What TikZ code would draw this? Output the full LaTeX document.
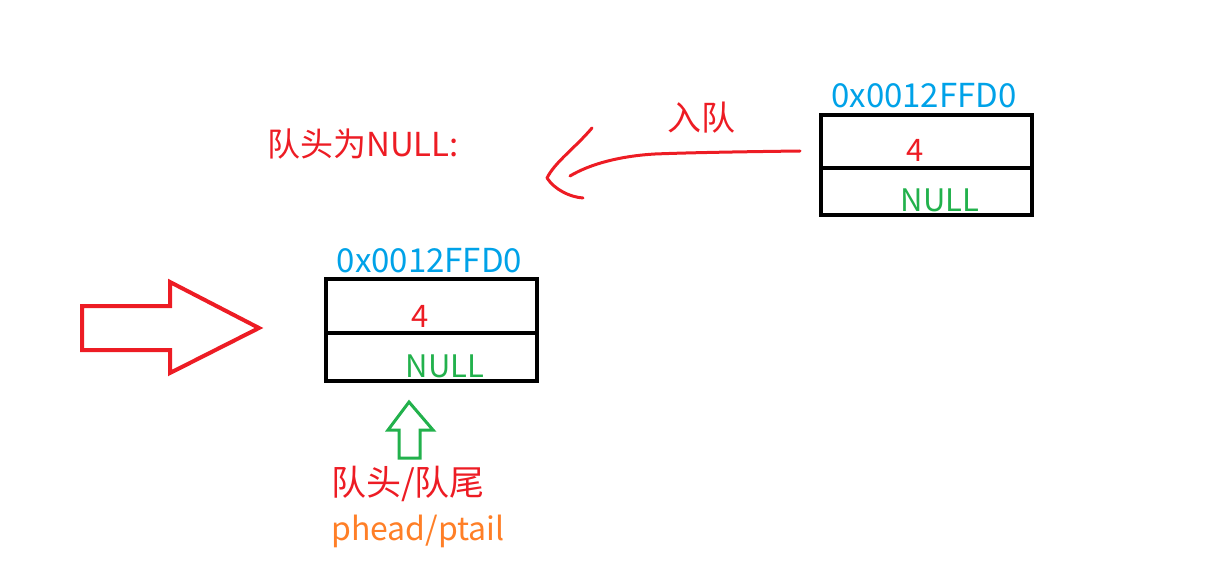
\documentclass[tikz,border=0pt]{standalone}
\usepackage{fontspec}
\setmainfont{Noto Sans CJK SC}
\usetikzlibrary{positioning,calc}
\definecolor{inkred}{HTML}{ED1C24}
\definecolor{inkblue}{HTML}{00A2E8}
\definecolor{inkgreen}{HTML}{22B14C}
\definecolor{inkorange}{HTML}{FF7F27}
\tikzset{
  cell/.style={draw, line width=4pt, minimum width=211pt, inner sep=0pt, outer sep=0pt},
  addr/.style={text=inkblue, font=\fontsize{33}{33}\selectfont, inner sep=0pt},
  val/.style={text=inkred, font=\fontsize{31}{31}\selectfont, inner sep=0pt},
  nul/.style={text=inkgreen, font=\fontsize{31}{31}\selectfont, inner sep=0pt},
  note/.style={text=inkred, font=\fontsize{34}{34}\selectfont, inner sep=0pt},
  ptr/.style={text=inkorange, font=\fontsize{32}{32}\selectfont, inner sep=0pt},
  hand/.style={draw=inkred, line width=3pt, line cap=round, line join=round},
  fat/.style={line width=4pt, line join=miter},
}
\begin{document}
\begin{tikzpicture}[x=1pt, y=-1pt]
  \useasboundingbox (0,0) rectangle (1208,567);

  % new node, right
  \node[cell, minimum height=53pt] (rtop) at (926.5,141.5) {};
  \node[cell, minimum height=47pt, below=0pt of rtop] (rbot) {};
  \node[addr] (raddr) at (924,95.5) {0x0012FFD0};
  \node[val] (rval) at (915,150) {4};
  \node[nul] (rnext) at (940,200) {NULL};

  % queue after insert, left
  \node[cell, minimum height=54pt] (ltop) at (431.5,306) {};
  \node[cell, minimum height=48pt, below=0pt of ltop] (lbot) {};
  \node[addr] (laddr) at (429.5,261) {0x0012FFD0};
  \node[val] (lval) at (420,316) {4};
  \node[nul] (lnext) at (445,366.5) {NULL};

  % notes
  \node[note, font=\fontsize{33}{33}\selectfont] (empty) at (363,144) {队头为NULL:};
  \node[note] (enq) at (701,118) {入队};
  \node[note, font=\fontsize{35}{35}\selectfont] (ends) at (408,484) {队头/队尾};
  \node[ptr] (ptrs) at (418,531) {phead/ptail};

  % hand drawn enqueue arrow
  \coordinate (from) at ($(rtop.south west)+(-21,-17)$);
  \coordinate (tip) at (547,178);
  \draw[hand] (from) .. controls (720,152) and (680,153) .. (655,154)
    .. controls (620,156) and (590,164) .. (570,176);
  \draw[hand] (592,128) .. controls (575,148) and (555,162) .. (tip)
    .. controls (555,190) and (570,197) .. (583,198);

  % big hollow arrow
  \draw[inkred, fat] (82,306) -- (170,306) -- (170,282) -- (259,328)
    -- (170,373) -- (170,350) -- (82,350) -- cycle;

  % pointer arrow
  \draw[inkgreen, line width=3pt, line join=miter] (399,458) -- (399,430)
    -- (388,430) -- (409,402) -- (433,430) -- (420,430) -- (420,458) -- cycle;
\end{tikzpicture}
\end{document}
